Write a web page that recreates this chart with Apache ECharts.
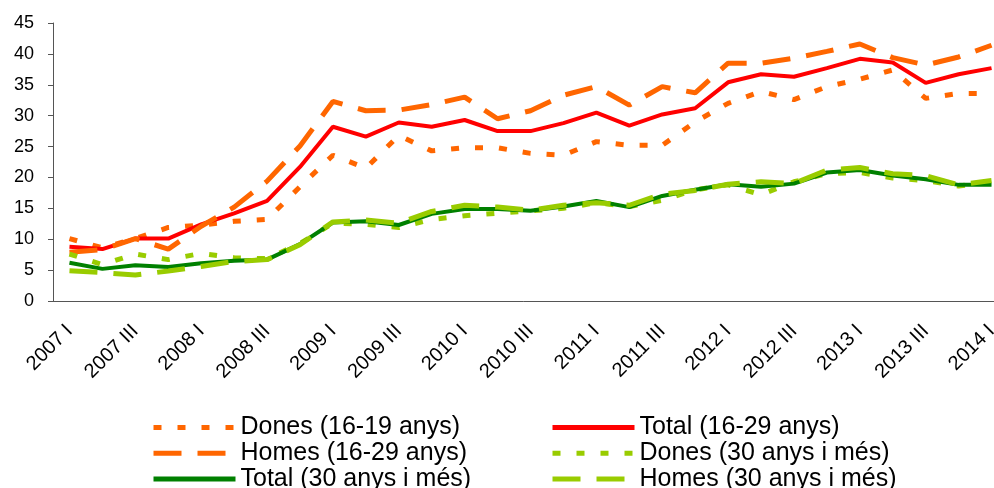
<!DOCTYPE html>
<html>
<head>
<meta charset="utf-8">
<script src="https://cdn.jsdelivr.net/npm/echarts@6/dist/echarts.min.js"></script>
<style>
  html, body { margin: 0; padding: 0; background: #fff; }
  #chart { width: 994px; height: 488px; }
</style>
</head>
<body>
<div id="chart"></div>
<script>
// quarters 2007 I .. 2014 I
const quarters = [
  '2007 I', '2007 II', '2007 III', '2007 IV',
  '2008 I', '2008 II', '2008 III', '2008 IV',
  '2009 I', '2009 II', '2009 III', '2009 IV',
  '2010 I', '2010 II', '2010 III', '2010 IV',
  '2011 I', '2011 II', '2011 III', '2011 IV',
  '2012 I', '2012 II', '2012 III', '2012 IV',
  '2013 I', '2013 II', '2013 III', '2013 IV',
  '2014 I'
]

const yTicks = [0, 5, 10, 15, 20, 25, 30, 35, 40, 45]

const donesJoves = [10.1, 8.6, 10.1, 11.9, 12.3, 12.9, 13.2, 18.5, 23.6, 21.5, 26.8, 24.3, 24.8, 24.8, 23.9, 23.6, 25.8, 25.2, 25.2, 29.0, 32.0, 33.9, 32.6, 34.7, 35.9, 37.4, 32.8, 33.6, 33.6]
const totalJoves = [8.8, 8.4, 10.1, 10.1, 12.4, 14.2, 16.2, 21.7, 28.2, 26.6, 28.9, 28.2, 29.3, 27.5, 27.5, 28.8, 30.5, 28.4, 30.2, 31.2, 35.4, 36.7, 36.3, 37.7, 39.2, 38.6, 35.3, 36.7, 37.7]
const homesJoves = [7.9, 8.3, 10.1, 8.4, 12.1, 15.2, 19.4, 25.1, 32.3, 30.8, 30.9, 31.8, 33.0, 29.5, 30.8, 33.3, 34.7, 31.7, 34.7, 33.7, 38.5, 38.5, 39.3, 40.4, 41.6, 39.4, 38.2, 39.5, 41.4]
const donesGrans = [7.6, 5.9, 7.6, 6.7, 7.7, 7.0, 6.85, 9.3, 12.6, 12.4, 11.9, 13.2, 13.8, 14.2, 14.6, 15.0, 15.9, 15.3, 16.3, 18.0, 18.8, 17.2, 19.3, 20.6, 20.8, 19.9, 19.5, 18.6, 19.3]
const totalGrans = [6.2, 5.2, 5.8, 5.5, 6.1, 6.5, 6.7, 9.2, 12.7, 12.9, 12.3, 14.1, 14.9, 14.9, 14.6, 15.3, 16.2, 15.2, 17.0, 18.0, 18.9, 18.5, 19.0, 20.8, 21.2, 20.3, 19.7, 18.8, 18.8]
const homesGrans = [4.9, 4.6, 4.2, 4.85, 5.6, 6.4, 6.7, 9.1, 12.8, 13.1, 12.6, 14.5, 15.5, 15.2, 14.7, 15.5, 15.9, 15.5, 17.3, 17.9, 18.9, 19.3, 19.0, 21.2, 21.6, 20.6, 20.3, 18.8, 19.5]

const seriesNames = [
  'Dones (16-19 anys)', 'Total (16-29 anys)', 'Homes (16-29 anys)',
  'Dones (30 anys i més)', 'Total (30 anys i més)', 'Homes (30 anys i més)'
]

const font = '"Liberation Sans", Arial, sans-serif'
const orange = '#FF6600'
const red = '#FF0000'
const darkGreen = '#008000'
const lightGreen = '#99CC00'

function lineSeries(name, data, color, width, dash) {
  return {
    name: name,
    type: 'line',
    data: data,
    symbol: 'none',
    smooth: false,
    lineStyle: { color: color, width: width, type: dash, cap: 'butt' },
    itemStyle: { color: color },
  }
}

// one legend per column, 3 rows each
function legendColumn(left, names) {
  return {
    orient: 'vertical',
    left: left, top: 415,
    height: 100,
    padding: 0,
    itemWidth: 82, itemHeight: 4, itemGap: 0.7,
    itemStyle: { opacity: 0 },
    lineStyle: { width: 5 },
    data: names,
    textStyle: { fontFamily: font, fontSize: 25, color: '#000', lineHeight: 25 },
  }
}

const chart = echarts.init(document.getElementById('chart'))

chart.setOption({
  animation: false,
  backgroundColor: '#fff',
  // the plot runs past the right edge of the picture (last quarter sits on the edge)
  grid: { left: 53, top: 23, bottom: 187, width: 955, outerBoundsMode: 'none', containLabel: false },
  legend: [
    legendColumn(151, [seriesNames[0], seriesNames[2], seriesNames[4]]),
    legendColumn(550, [seriesNames[1], seriesNames[3], seriesNames[5]]),
  ],
  xAxis: {
    type: 'category',
    data: quarters,
    boundaryGap: true,
    axisLine: { lineStyle: { color: '#555', width: 1 } },
    axisTick: { interval: 0, length: 5, lineStyle: { color: '#555' } },
    axisLabel: {
      interval: 1, rotate: 45, margin: 27,
      fontFamily: font, fontSize: 20, color: '#000',
    },
    splitLine: { show: false },
  },
  yAxis: {
    type: 'value',
    min: yTicks[0], max: yTicks[yTicks.length - 1], interval: 5,
    axisLine: { show: true, lineStyle: { color: '#555', width: 1 } },
    axisTick: { show: true, length: 5, lineStyle: { color: '#555' } },
    axisLabel: { margin: 19, fontFamily: font, fontSize: 18, color: '#000' },
    splitLine: { show: false },
  },
  series: [
    lineSeries(seriesNames[0], donesJoves, orange, 5, [8, 16]),
    lineSeries(seriesNames[1], totalJoves, red, 4, 'solid'),
    lineSeries(seriesNames[2], homesJoves, orange, 5, [28, 16]),
    lineSeries(seriesNames[3], donesGrans, lightGreen, 5, [8, 16]),
    lineSeries(seriesNames[4], totalGrans, darkGreen, 4, 'solid'),
    lineSeries(seriesNames[5], homesGrans, lightGreen, 5, [28, 16]),
  ],
})
</script>
</body>
</html>
